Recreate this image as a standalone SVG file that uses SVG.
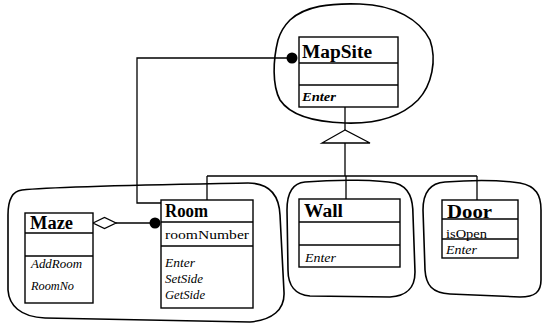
<svg xmlns="http://www.w3.org/2000/svg" width="544" height="328" viewBox="0 0 544 328">
<style>
.blob{fill:none;stroke:#000;stroke-width:1.6}
.box{fill:#fff;stroke:#000;stroke-width:1.4}
.sep{stroke:#000;stroke-width:1.3}
.ln{fill:none;stroke:#000;stroke-width:1.3}
.t{font-family:"Liberation Serif",serif;font-weight:bold;font-size:18px;fill:#000}
.a{font-family:"Liberation Serif",serif;font-size:13px;fill:#000}
.m{font-family:"Liberation Serif",serif;font-style:italic;font-size:13px;fill:#000}
</style>
<rect width="544" height="328" fill="#fff"/>
<g id="blobs">
<path class="blob" d="M290,20 C305,6 330,3 360,4 C395,5 420,20 430,40 C437,60 432,85 418,100 C400,118 375,124 345,123 C315,122 290,115 280,100 C272,85 273,60 278,40 C281,30 285,25 290,20 Z"/>
<path class="blob" d="M22,190 C60,186 200,184 248,183 C270,183 279,195 280,215 L284,292 C285,310 272,320 250,322 L45,318 C20,317 9,305 8,290 L8,215 C8,200 12,191 22,190 Z"/>
<path class="blob" d="M305,182 C340,179 380,180 395,183 C410,187 413,200 413,215 L415,272 C415,290 405,296 390,297 L310,296 C295,295 288,285 288,270 L287,210 C287,192 293,183 305,182 Z"/>
<path class="blob" d="M445,182 C470,180 500,180 520,183 C536,186 541,195 541,210 L541,280 C541,292 535,297 520,297 L450,294 C432,293 426,285 425,270 L423,210 C423,192 430,183 445,182 Z"/>
</g>
<g id="connectors">
<polyline class="ln" points="287,58 137,58 137,203 161,203"/>
<circle cx="292" cy="58" r="5.5" fill="#000"/>
<line class="ln" x1="116" y1="223" x2="150" y2="223"/>
<polygon points="93,223 104.5,217.5 116,223 104.5,228.5" fill="#fff" stroke="#000" stroke-width="1.3"/>
<circle cx="155" cy="223" r="5.5" fill="#000"/>
<line class="ln" x1="345" y1="107" x2="345" y2="130"/>
<polygon points="345,130 322,143 370,143" fill="#fff" stroke="#000" stroke-width="1.3"/>
<line class="ln" x1="345" y1="143" x2="345" y2="176"/>
<line class="ln" x1="207" y1="176" x2="477" y2="176"/>
<line class="ln" x1="207" y1="176" x2="207" y2="200"/>
<line class="ln" x1="346" y1="176" x2="346" y2="199"/>
<line class="ln" x1="477" y1="176" x2="477" y2="200"/>
</g>
<g id="MapSite">
<rect class="box" x="299" y="37" width="99" height="70"/>
<line class="sep" x1="299" y1="63" x2="398" y2="63"/>
<line class="sep" x1="299" y1="85" x2="398" y2="85"/>
<text class="t" x="302" y="58" textLength="70" lengthAdjust="spacingAndGlyphs">MapSite</text>
<text class="m" x="302" y="101" font-weight="bold" textLength="34" lengthAdjust="spacingAndGlyphs">Enter</text>
</g>
<g id="Maze">
<rect class="box" x="25" y="213" width="68" height="90"/>
<line class="sep" x1="25" y1="233" x2="93" y2="233"/>
<line class="sep" x1="25" y1="256" x2="93" y2="256"/>
<text class="t" x="30" y="229" textLength="43" lengthAdjust="spacingAndGlyphs">Maze</text>
<text class="m" x="31" y="268" textLength="51" lengthAdjust="spacingAndGlyphs">AddRoom</text>
<text class="m" x="31" y="290" textLength="43" lengthAdjust="spacingAndGlyphs">RoomNo</text>
</g>
<g id="Room">
<rect class="box" x="161" y="200" width="92" height="108"/>
<line class="sep" x1="161" y1="222" x2="253" y2="222"/>
<line class="sep" x1="161" y1="246" x2="253" y2="246"/>
<text class="t" x="165" y="217" textLength="43" lengthAdjust="spacingAndGlyphs">Room</text>
<text class="a" x="165" y="239" textLength="84" lengthAdjust="spacingAndGlyphs">roomNumber</text>
<text class="m" x="165" y="267" textLength="30" lengthAdjust="spacingAndGlyphs">Enter</text>
<text class="m" x="165" y="283" textLength="38" lengthAdjust="spacingAndGlyphs">SetSide</text>
<text class="m" x="165" y="299" textLength="40" lengthAdjust="spacingAndGlyphs">GetSide</text>
</g>
<g id="Wall">
<rect class="box" x="299" y="199" width="101" height="68"/>
<line class="sep" x1="299" y1="222" x2="400" y2="222"/>
<line class="sep" x1="299" y1="245" x2="400" y2="245"/>
<text class="t" x="304" y="217" textLength="39" lengthAdjust="spacingAndGlyphs">Wall</text>
<text class="m" x="305" y="262" textLength="31" lengthAdjust="spacingAndGlyphs">Enter</text>
</g>
<g id="Door">
<rect class="box" x="442" y="200" width="76" height="58"/>
<line class="sep" x1="442" y1="219" x2="518" y2="219"/>
<line class="sep" x1="442" y1="239" x2="518" y2="239"/>
<text class="t" x="447" y="218" textLength="45" lengthAdjust="spacingAndGlyphs">Door</text>
<text class="a" x="446" y="238" textLength="41" lengthAdjust="spacingAndGlyphs">isOpen</text>
<text class="m" x="446" y="254" textLength="31" lengthAdjust="spacingAndGlyphs">Enter</text>
</g>
</svg>
